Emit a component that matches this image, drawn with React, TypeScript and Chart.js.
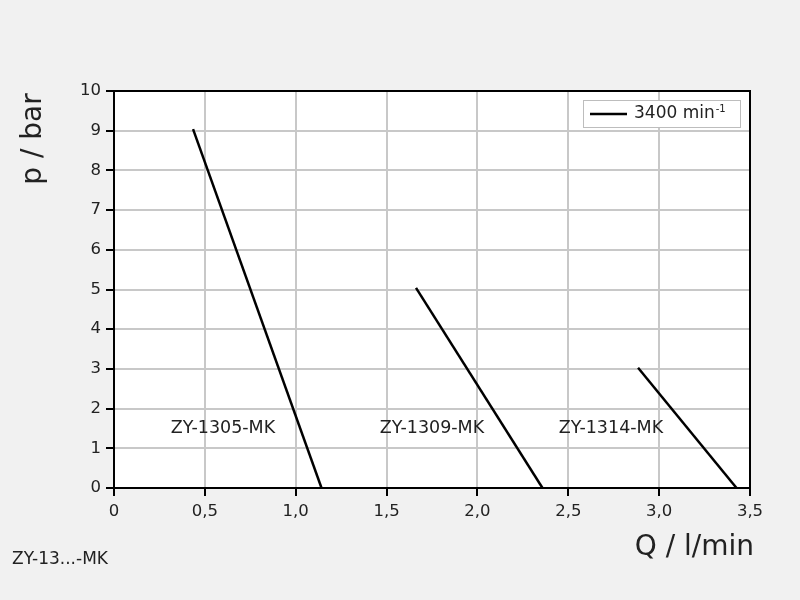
import React, { useEffect, useRef } from "react";
import { Chart, registerables } from "chart.js";

Chart.register(...registerables);

const seriesNames = ["ZY-1305-MK", "ZY-1309-MK", "ZY-1314-MK"];
const q1305 = [0.435, 1.142];
const p1305 = [9.04, 0];
const q1309 = [1.662, 2.358];
const p1309 = [5.04, 0];
const q1314 = [2.884, 3.426];
const p1314 = [3.03, 0];
const labelQ = [0.6, 1.75, 2.735];
const labelP = [1.5, 1.5, 1.5];
const xTickLabels = ["0", "0,5", "1,0", "1,5", "2,0", "2,5", "3,0", "3,5"];
const legendLabel = "3400 min⁻¹";
const xTitle = "Q / l/min";
const yTitle = "p / bar";
const footNote = "ZY-13...-MK";

const FONT = "Verdana, 'DejaVu Sans', sans-serif";
const TXT = "#222";

const overlayPlugin = {
  id: "overlay",
  afterDraw(chart: any) {
    const ctx = chart.ctx;
    const a = chart.chartArea;
    const xs = chart.scales.x;
    const ys = chart.scales.y;
    ctx.save();
    // frame
    ctx.strokeStyle = "#000";
    ctx.lineWidth = 2;
    ctx.strokeRect(a.left, a.top, a.right - a.left, a.bottom - a.top);
    // series labels
    ctx.fillStyle = TXT;
    ctx.font = `17.5px ${FONT}`;
    ctx.textAlign = "center";
    ctx.textBaseline = "middle";
    seriesNames.forEach((n, i) => {
      ctx.fillText(n, xs.getPixelForValue(labelQ[i]), ys.getPixelForValue(labelP[i]));
    });
    // legend
    const bx = a.right - 167, by = a.top + 9, bw = 157, bh = 27;
    ctx.fillStyle = "#fff";
    ctx.fillRect(bx, by, bw, bh);
    ctx.strokeStyle = "#bdbdbd";
    ctx.lineWidth = 1;
    ctx.strokeRect(bx + 0.5, by + 0.5, bw, bh);
    ctx.strokeStyle = "#000";
    ctx.lineWidth = 2.5;
    ctx.beginPath();
    ctx.moveTo(bx + 7, by + 14);
    ctx.lineTo(bx + 44, by + 14);
    ctx.stroke();
    ctx.fillStyle = TXT;
    const lbl: string = chart.data.datasets[0].label;
    const [mainTxt, supTxt] = lbl.includes("⁻¹") ? [lbl.replace("⁻¹", ""), "-1"] : [lbl, ""];
    ctx.font = `17px ${FONT}`;
    ctx.textAlign = "left";
    ctx.fillText(mainTxt, bx + 51, by + 14);
    const w = ctx.measureText(mainTxt).width;
    ctx.font = `10px ${FONT}`;
    ctx.fillText(supTxt, bx + 51 + w + 1, by + 9);
    // axis titles
    ctx.font = `28px ${FONT}`;
    ctx.textAlign = "right";
    ctx.fillText(xTitle, a.right + 4, 548);
    ctx.save();
    ctx.translate(34, 139);
    ctx.rotate(-Math.PI / 2);
    ctx.textAlign = "center";
    ctx.fillText(yTitle, 0, 0);
    ctx.restore();
    // footnote
    ctx.font = `17px ${FONT}`;
    ctx.textAlign = "left";
    ctx.fillText(footNote, 12, 560);
    ctx.restore();
  },
};

const bgPlugin = {
  id: "bg",
  beforeDraw(chart: any) {
    const ctx = chart.ctx;
    const a = chart.chartArea;
    ctx.save();
    ctx.fillStyle = "#f1f1f1";
    ctx.fillRect(0, 0, chart.width, chart.height);
    ctx.fillStyle = "#fff";
    ctx.fillRect(a.left, a.top, a.right - a.left, a.bottom - a.top);
    ctx.restore();
  },
};

export default function App() {
  const ref = useRef<HTMLCanvasElement | null>(null);
  useEffect(() => {
    if (!ref.current) return;
    const mk = (q: number[], p: number[], label: string) => ({
      label,
      data: q.map((x, i) => ({ x, y: p[i] })),
      showLine: true,
      borderColor: "#000",
      backgroundColor: "#000",
      borderWidth: 2.5,
      pointRadius: 0,
      fill: false,
    });
    const chart = new Chart(ref.current, {
      type: "scatter",
      data: {
        datasets: [
          mk(q1305, p1305, legendLabel),
          mk(q1309, p1309, legendLabel),
          mk(q1314, p1314, legendLabel),
        ],
      },
      plugins: [bgPlugin, overlayPlugin],
      options: {
        animation: false,
        responsive: false,
        maintainAspectRatio: false,
        layout: { padding: { left: 0, top: 91, right: 50, bottom: 72 } },
        plugins: { legend: { display: false }, tooltip: { enabled: false } },
        scales: {
          x: {
            type: "linear",
            min: 0,
            max: 3.5,
            afterFit: (s: any) => { s.height = 40; },
            afterBuildTicks: (s: any) => {
              s.ticks = xTickLabels.map((_, i) => ({ value: i * 0.5 }));
            },
            ticks: {
              stepSize: 0.5,
              padding: 6,
              color: TXT,
              font: { family: FONT, size: 16.5 },
              callback: (_v: any, i: number) => xTickLabels[i],
              maxRotation: 0,
            },
            grid: { color: "#c8c8c8", lineWidth: 2, tickLength: 8, tickColor: "#000", tickWidth: 2 },
            border: { color: "#000", width: 2 },
          },
          y: {
            type: "linear",
            min: 0,
            max: 10,
            afterFit: (s: any) => { s.width = 114; },
            ticks: {
              stepSize: 1,
              padding: 5,
              color: TXT,
              font: { family: FONT, size: 16.5 },
            },
            grid: { color: "#c8c8c8", lineWidth: 2, tickLength: 8, tickColor: "#000", tickWidth: 2 },
            border: { color: "#000", width: 2 },
          },
        },
      },
    } as any);
    return () => chart.destroy();
  }, []);
  return (
    <div style={{ position: "absolute", left: 0, top: 0, width: 800, height: 600 }}>
      <canvas ref={ref} width={800} height={600} style={{ width: 800, height: 600, display: "block" }} />
    </div>
  );
}
